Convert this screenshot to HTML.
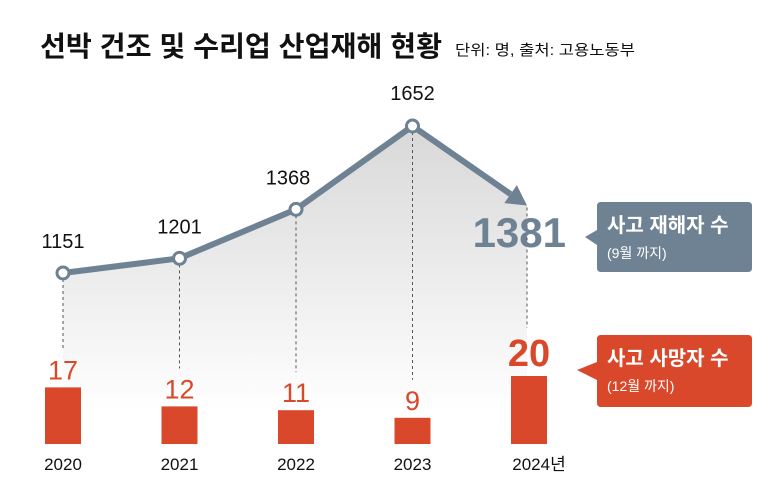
<!DOCTYPE html>
<html><head><meta charset="utf-8"><style>
body{margin:0;background:#fff;width:780px;height:490px;overflow:hidden;font-family:"Liberation Sans","Noto Sans CJK KR",sans-serif}
</style></head><body>
<svg width="780" height="490" viewBox="0 0 780 490" xmlns="http://www.w3.org/2000/svg" style="font-family:'Liberation Sans','Noto Sans CJK KR',sans-serif">
<defs>
<linearGradient id="g" x1="0" y1="0" x2="0" y2="1"><stop offset="0" stop-color="#d8d8d8"/><stop offset="0.9" stop-color="#ffffff"/></linearGradient>
</defs>
<text x="40" y="56" font-size="28" font-weight="bold" fill="#111" textLength="402" lengthAdjust="spacingAndGlyphs">선박 건조 및 수리업 산업재해 현황</text>
<text x="455" y="55" font-size="15" fill="#111" textLength="180" lengthAdjust="spacingAndGlyphs">단위: 명, 출처: 고용노동부</text>
<g id="plot"></g>
<path d="M601 202 H748 Q752 202 752 206 V268 Q752 272 748 272 H601 Q597 272 597 268 V245 L585 237 L597 230 V206 Q597 202 601 202Z" fill="#6e8294"/>
<text x="607" y="232" font-size="20" font-weight="bold" fill="#fff">사고 재해자 수</text>
<text x="607" y="258" font-size="14" fill="#fff">(9월 까지)</text>
<path d="M601 335 H748 Q752 335 752 339 V403 Q752 407 748 407 H601 Q597 407 597 403 V380 L577 370 L597 362 V339 Q597 335 601 335Z" fill="#d9482b"/>
<text x="607" y="365" font-size="20" font-weight="bold" fill="#fff">사고 사망자 수</text>
<text x="607" y="391" font-size="14" fill="#fff">(12월 까지)</text>
</svg>
<script>
const years=['2020','2021','2022','2023','2024년'];
const injuries=[1151,1201,1368,1652,1381];
const deaths=[17,12,11,9,20];
const NS='http://www.w3.org/2000/svg';
const g=document.getElementById('plot');
function xPos(i){return 63+i*116.5;}
function yLine(v){return 273-(v-1151)*0.2934;}
function barH(v){return v*3.8-8;}
const base=444;
function mk(t,a,p){const e=document.createElementNS(NS,t);for(const k in a)e.setAttribute(k,a[k]);(p||g).appendChild(e);return e;}
const ex=xPos(4)-2, ey=yLine(injuries[4]);
let d='M'+xPos(0)+' '+yLine(injuries[0]);
for(let i=1;i<4;i++)d+=' L'+xPos(i)+' '+yLine(injuries[i]);
d+=' L'+ex+' '+ey+' L'+ex+' 444 L'+xPos(0)+' 444 Z';
const area=mk('path',{d:d,fill:'url(#g)'});


for(let i=0;i<5;i++){
 const y1=i<4?yLine(injuries[i]):ey+2;
 const y2=base-barH(deaths[i])-(i<4?38:48);
 const xx=i==4?ex:xPos(i);
 const l=mk('line',{x1:xx,x2:xx,y1:y1,y2:y2,stroke:'#555','stroke-width':1,'stroke-dasharray':'3,3'});
 
 
}
const sx=xPos(3), sy=yLine(injuries[3]);
const dx=ex-sx, dy=ey-sy, len=Math.hypot(dx,dy), ux=dx/len, uy=dy/len;
const bx=ex-ux*20, by=ey-uy*20;
let pts=[];for(let i=0;i<4;i++)pts.push(xPos(i)+','+yLine(injuries[i]));
pts.push(bx+','+by);
const pl=mk('polyline',{points:pts.join(' '),fill:'none',stroke:'#6e8294','stroke-width':6,'stroke-linejoin':'round'});


const ar=mk('path',{d:'M'+ex+' '+ey+' L'+(bx-uy*11)+' '+(by+ux*11)+' L'+(bx+uy*11)+' '+(by-ux*11)+' Z',fill:'#6e8294'});


const lblOff=[[0,-25],[0,-25],[-8,-25],[0,-26]];
for(let i=0;i<4;i++){
 const c=mk('circle',{cx:xPos(i),cy:yLine(injuries[i]),r:6,fill:'#fff',stroke:'#6e8294','stroke-width':3});
 
 
 const t=mk('text',{x:xPos(i)+lblOff[i][0],y:yLine(injuries[i])+lblOff[i][1],'text-anchor':'middle','font-size':20,fill:'#111'});
 t.textContent=injuries[i];
 
 
}
const big=mk('text',{x:566,y:247,'text-anchor':'end','font-size':42,'font-weight':'bold',fill:'#6e8294'});
big.textContent=injuries[4];


for(let i=0;i<5;i++){
 const h=barH(deaths[i]);
 const cx=xPos(i);
 const r=mk('rect',{x:cx-18,y:base-h,width:36,height:h,fill:'#d9482b'});
 
 
 const t=mk('text',{x:cx,y:base-h-(i==4?10:8),'text-anchor':'middle','font-size':i==4?38:27,'font-weight':i==4?'bold':'normal',fill:'#d9482b'});
 t.textContent=deaths[i];
 
 
 const y=mk('text',{x:cx+(i==4?10:0),y:470,'text-anchor':'middle','font-size':17,fill:'#111'});
 y.textContent=years[i];
 
 
}
</script>
</body></html>
